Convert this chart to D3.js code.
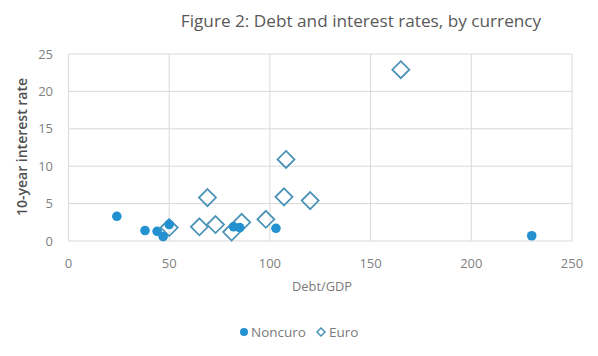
<!DOCTYPE html>
<html><head><meta charset="utf-8">
<script src="https://cdn.jsdelivr.net/npm/d3@7"></script>
<style>body{margin:0;background:#fff;}svg{display:block;font-family:"Open Sans",Lato,sans-serif;}</style>
</head><body>
<script>
const nonEuroDebt = [24, 38, 44, 47, 50, 82, 85, 103, 230];
const nonEuroRate = [3.3, 1.4, 1.3, 0.6, 2.2, 1.9, 1.8, 1.7, 0.7];
const euroDebt = [50, 65, 69, 73, 81, 86, 98, 107, 108, 120, 165];
const euroRate = [1.8, 1.9, 5.8, 2.2, 1.2, 2.5, 2.9, 5.9, 10.9, 5.4, 22.9];
const xTicks = [0, 50, 100, 150, 200, 250];
const yTicks = [0, 5, 10, 15, 20, 25];
const title = "Figure 2: Debt and interest rates, by currency";
const xTitle = "Debt/GDP";
const yTitle = "10-year interest rate";
const seriesNames = ["Noncuro", "Euro"];

const W = 598, H = 356;
const svg = d3.select("body").append("svg").attr("width", W).attr("height", H);
const x = d3.scaleLinear().domain([0, 250]).range([68.5, 572]);
const y = d3.scaleLinear().domain([0, 25]).range([241, 54]);
const grid = "#d9d9d9", txt = "#7f7f7f";
const fillCol = "#2390cf", euroCol = "#4b93b8";

svg.append("g").selectAll("line").data(yTicks).join("line")
  .attr("x1", x(0)).attr("x2", x(250)).attr("y1", d => y(d)).attr("y2", d => y(d))
  .attr("stroke", grid).attr("stroke-width", 1);
svg.append("g").selectAll("line").data(xTicks).join("line")
  .attr("y1", y(0)).attr("y2", y(25)).attr("x1", d => x(d)).attr("x2", d => x(d))
  .attr("stroke", grid).attr("stroke-width", 1);

svg.append("g").selectAll("text").data(yTicks).join("text")
  .attr("x", 53).attr("y", d => y(d)).attr("dy", "0.35em").attr("text-anchor", "end")
  .attr("font-size", 13).attr("fill", txt).text(d => d);
svg.append("g").selectAll("text").data(xTicks).join("text")
  .attr("x", d => x(d)).attr("y", 263).attr("dy", "0.35em").attr("text-anchor", "middle")
  .attr("font-size", 13).attr("fill", txt).text(d => d);

svg.append("text").attr("x", 361).attr("y", 21).attr("dy", "0.35em").attr("text-anchor", "middle")
  .attr("font-size", 17.2).attr("fill", "#595959").text(title);
svg.append("text").attr("x", 322).attr("y", 287).attr("dy", "0.35em").attr("text-anchor", "middle")
  .attr("font-size", 12.8).attr("fill", "#7a7a7a").text(xTitle);
svg.append("text").attr("transform", "translate(22,147) rotate(-90)").attr("dy", "0.35em")
  .attr("text-anchor", "middle").attr("font-size", 14).attr("font-weight", "600")
  .attr("fill", "#505050").text(yTitle);

const euro = euroDebt.map((d, i) => [d, euroRate[i]]);
const nonEuro = nonEuroDebt.map((d, i) => [d, nonEuroRate[i]]);
const dm = 8.5;
svg.append("g").selectAll("path").data(euro).join("path")
  .attr("d", d => `M${x(d[0])},${y(d[1]) - dm}L${x(d[0]) + dm},${y(d[1])}L${x(d[0])},${y(d[1]) + dm}L${x(d[0]) - dm},${y(d[1])}Z`)
  .attr("fill", "none").attr("stroke", euroCol).attr("stroke-width", 1.8);
svg.append("g").selectAll("circle").data(nonEuro).join("circle")
  .attr("cx", d => x(d[0])).attr("cy", d => y(d[1])).attr("r", 4.8).attr("fill", fillCol);

const lg = svg.append("g");
lg.append("circle").attr("cx", 244).attr("cy", 332).attr("r", 4).attr("fill", fillCol);
lg.append("text").attr("x", 251).attr("y", 332).attr("dy", "0.35em").attr("font-size", 13.5)
  .attr("fill", "#7a7a7a").text(seriesNames[0]);
lg.append("path").attr("d", "M321,328L325,332L321,336L317,332Z").attr("fill", "none")
  .attr("stroke", euroCol).attr("stroke-width", 1.5);
lg.append("text").attr("x", 329).attr("y", 332).attr("dy", "0.35em").attr("font-size", 13.5)
  .attr("fill", "#7a7a7a").text(seriesNames[1]);
</script>
</body></html>
